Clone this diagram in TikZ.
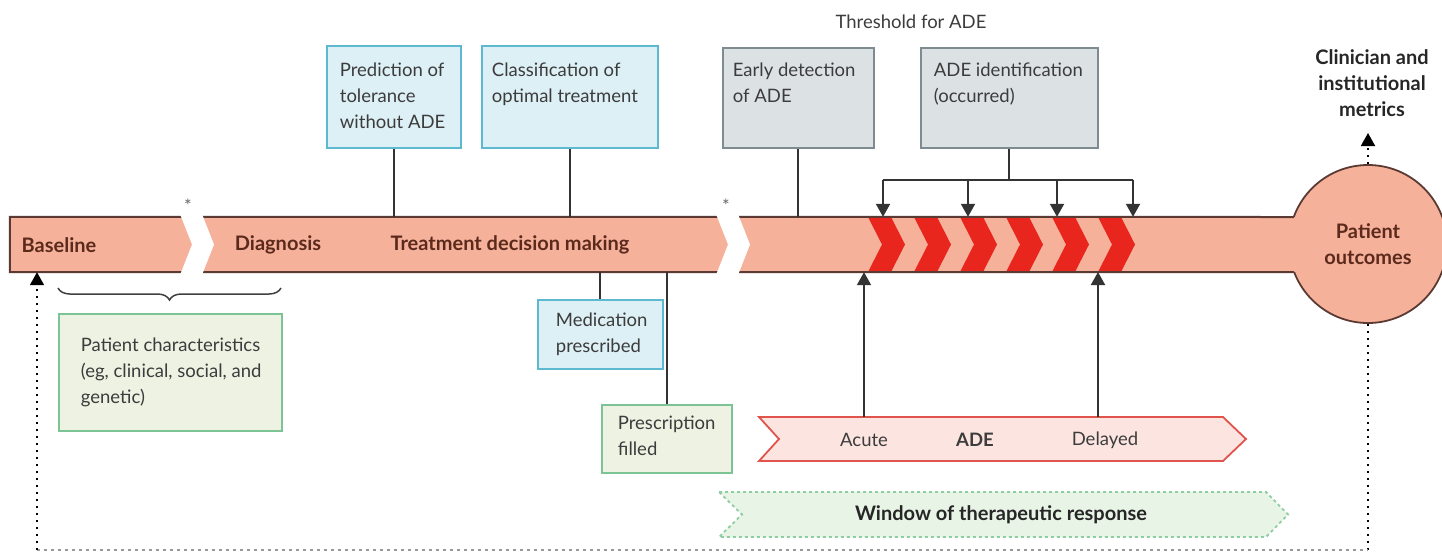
\documentclass[tikz,border=0pt]{standalone}
\usepackage{fontspec}
\setmainfont{Lato}
\usetikzlibrary{arrows.meta,decorations.pathreplacing,calc}
\definecolor{salmon}{HTML}{F6B19B}
\definecolor{bandline}{HTML}{5A3A33}
\definecolor{bandtext}{HTML}{5B2A1C}
\definecolor{adered}{HTML}{E8261E}
\definecolor{bluefill}{HTML}{DDF0F6}
\definecolor{blueline}{HTML}{5DB9D0}
\definecolor{grayfill}{HTML}{DCE1E4}
\definecolor{grayline}{HTML}{7E8B91}
\definecolor{greenfill}{HTML}{EEF2E3}
\definecolor{greenline}{HTML}{7CC396}
\definecolor{pinkfill}{HTML}{FCE5E0}
\definecolor{pinkline}{HTML}{E0544C}
\definecolor{winfill}{HTML}{E8F4E6}
\definecolor{winline}{HTML}{8FCDA2}
\definecolor{txt}{HTML}{3C3C3C}
\newcommand\boxfont{\fontsize{18.5}{26}\selectfont}
\newcommand\labfont{\fontsize{20}{26}\selectfont\bfseries}
\newcommand\bxt[5]{\parbox[c][#2pt][t]{#1pt}{\vspace*{#4pt}\raggedright\leftskip=#3pt\relax\noindent #5\par}}
\tikzset{
  bx/.style={draw, line width=1.8pt, inner sep=0pt, anchor=north west, font=\boxfont, text=txt},
  bluebox/.style={bx, fill=bluefill, draw=blueline},
  graybox/.style={bx, fill=grayfill, draw=grayline},
  greenbox/.style={bx, fill=greenfill, draw=greenline},
  conn/.style={draw=black!80, line width=2pt},
  arrowhd/.style={-{Triangle[width=14pt,length=13pt]}},
  dotline/.style={draw=black, line width=1.8pt, dash pattern=on 2.5pt off 4.5pt},
  bandlab/.style={font=\labfont, text=bandtext},
  plaintxt/.style={font=\boxfont, text=txt},
  asterisk/.style={font=\fontsize{18}{18}\selectfont, text=black!60, inner sep=0pt},
}
\begin{document}
\begin{tikzpicture}[x=1pt,y=-1pt]
\useasboundingbox (0,0) rectangle (1442,552);

% patient outcomes circle
\node[circle, minimum size=158pt, fill=salmon, draw=bandline, line width=1.8pt, inner sep=0pt,
      font=\labfont, text=bandtext, align=center] (outc) at (1368,244) {Patient\\outcomes};

% band
\node[fill=salmon, minimum width=1295pt, minimum height=55pt, inner sep=0pt] (band) at (657.5,244.5) {};
\foreach \x in {868,914,960,1006,1052,1098}
  \fill[adered] (\x,217) -- (\x+23,217) -- (\x+37,244.5) -- (\x+23,272) -- (\x,272) -- (\x+14,244.5) -- cycle;
\draw[draw=bandline, line width=2pt] (1294,217) -- (band.north west) -- (band.south west) -- (1294,272);
\fill[white] (180,214) -- (202,214) -- (214,244.5) -- (202,275) -- (180,275) -- (192,244.5) -- cycle;
\fill[white] (716,214) -- (738,214) -- (750,244.5) -- (738,275) -- (716,275) -- (728,244.5) -- cycle;
\node[asterisk] (st1) at (188,206) {*};
\node[asterisk] (st2) at (726,206) {*};

\node[bandlab] (base) at (59,245) {Baseline};
\node[bandlab] (diag) at (278,245) {Diagnosis};
\node[bandlab] (tdm) at (510,245) {Treatment decision making};

% top boxes
\node[bluebox] (pred) at (326,45) {\bxt{134}{102}{13}{17}{Prediction of\\tolerance\\without ADE}};
\node[bluebox] (class) at (481,45) {\bxt{176}{102}{10}{17}{Classification of\\optimal treatment}};
\node[graybox] (early) at (722,47) {\bxt{151}{100}{10}{15}{Early detection\\of ADE}};
\node[graybox] (adeid) at (920,47) {\bxt{177}{100}{13}{15}{ADE identification\\(occurred)}};
\node[plaintxt] (thr) at (911,22) {Threshold for ADE};

\draw[conn] (pred.south) -- (pred.south |- band.north);
\draw[conn] (class.south) -- (class.south |- band.north);
\draw[conn] (early.south) -- (early.south |- band.north);

\coordinate (hbar) at (0,180);
\coordinate (d1) at (883,180);
\coordinate (d2) at (968,180);
\coordinate (d3) at (1057,180);
\coordinate (d4) at (1133,180);
\draw[conn] (adeid.south) -- (adeid.south |- hbar);
\draw[conn] (d1) -- (d4);
\foreach \d in {d1,d2,d3,d4}
  \draw[conn, arrowhd] (\d) -- (\d |- band.north);

% lower boxes
\node[greenbox] (pc) at (58,313) {\bxt{223}{117}{22}{24}{Patient characteristics\\(eg, clinical, social, and\\genetic)}};
\draw[draw=black!75, line width=1.5pt, decorate, decoration={brace, mirror, amplitude=12pt}] (58,288) -- (281,288);
\node[bluebox] (med) at (537,299) {\bxt{125}{69}{18}{13}{Medication\\prescribed}};
\node[greenbox] (pf) at (601,404) {\bxt{130}{68}{16}{11}{Prescription\\filled}};
\draw[conn] (med.north |- band.south) -- (med.north);
\draw[conn] (pf.north |- band.south) -- (pf.north);

% ADE arrow
\filldraw[fill=pinkfill, draw=pinkline, line width=1.8pt]
  (759,417) -- (1223,417) -- (1246,439) -- (1223,461) -- (759,461) -- (779,439) -- cycle;
\coordinate (adetop) at (0,417);
\node[plaintxt] (acute) at (864,440) {Acute};
\node[plaintxt, font=\boxfont\bfseries] (adelbl) at (975,440) {ADE};
\node[plaintxt] (delayed) at (1105,440) {Delayed};
\draw[conn, arrowhd] (acute |- adetop) -- (acute |- band.south);
\draw[conn, arrowhd] (1098,417) -- (1098,272);

% window arrow
\filldraw[fill=winfill, draw=winline, line width=1.8pt, dash pattern=on 3pt off 3pt]
  (719,492) -- (1266,492) -- (1288,514.5) -- (1266,537) -- (719,537) -- (742,514.5) -- cycle;
\node[font=\labfont, text=black!85] (win) at (1001,515) {Window of therapeutic response};

% outcome metrics
\node[font=\labfont, text=black!85, align=center] (clin) at (1372,83) {Clinician and\\institutional\\metrics};
\coordinate (clinarrow) at (1368,133);
\draw[dotline, arrowhd] (outc.north) -- (outc.north |- clinarrow);

% feedback loop
\coordinate (botL) at (37,550);
\draw[dotline] (outc.south) -- (outc.south |- botL);
\draw[dotline, draw=black!40] (botL) -- (outc.south |- botL);
\draw[dotline, arrowhd] (botL) -- (botL |- band.south);
\end{tikzpicture}
\end{document}
